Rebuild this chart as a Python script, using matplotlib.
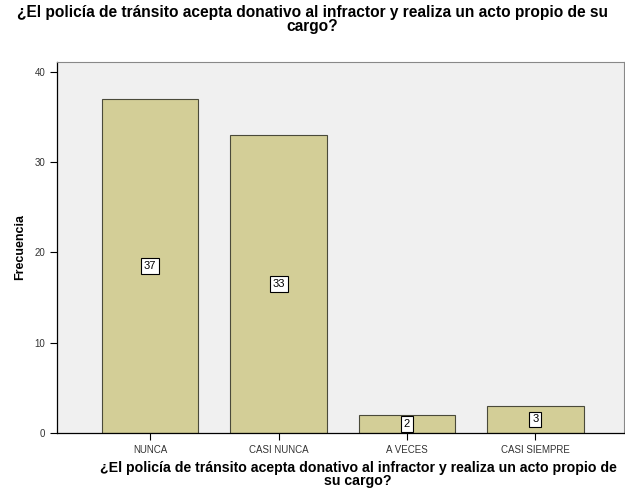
import numpy as np
import matplotlib.pyplot as plt

plt.rcParams['font.family'] = ['Liberation Sans', 'DejaVu Sans']

# data
categorias = ['NUNCA', 'CASI NUNCA', 'A VECES', 'CASI SIEMPRE']
frecuencia = [37, 33, 2, 3]

titulo = '¿El policía de tránsito acepta donativo al infractor y realiza un acto propio de su\ncargo?'
etiqueta_x = '¿El policía de tránsito acepta donativo al infractor y realiza un acto propio de\nsu cargo?'

fig = plt.figure(figsize=(6.25, 4.94), dpi=100)
ax = fig.add_axes([0.0912, 0.1235, 0.9072, 0.751])
ax.set_facecolor('#f0f0f0')

x = np.arange(len(categorias))
ax.bar(x, frecuencia, width=0.75, color='#d3ce97', edgecolor='#4a4a3a', linewidth=0.8, zorder=2)

for xi, v in zip(x, frecuencia):
    ax.text(xi, v / 2, str(v), ha='center', va='center', fontsize=8, zorder=3,
            bbox=dict(boxstyle='square,pad=0.25', fc='white', ec='black', lw=0.8))

ax.set_xlim(-0.725, 3.69)
ax.set_ylim(0, 41.1)
ax.set_yticks([0, 10, 20, 30, 40])
ax.set_xticks(x)
ax.set_xticklabels(categorias)
ax.tick_params(axis='both', labelsize=7, length=5, width=0.8, colors='black', labelcolor='#333333')

for s in ['top', 'right']:
    ax.spines[s].set_color('#888888')
for s in ['left', 'bottom']:
    ax.spines[s].set_color('black')
    ax.spines[s].set_linewidth(0.9)

ax.set_ylabel('Frecuencia', fontsize=9, fontweight='bold', labelpad=6)
ax.set_xlabel(etiqueta_x, fontsize=10.2, fontweight='bold', linespacing=0.9)
ax.xaxis.set_label_coords(0.531, -0.075)
fig.suptitle(titulo, fontsize=11.2, fontweight='bold', y=0.99, linespacing=0.88)

fig.savefig('out.png', dpi=100)
